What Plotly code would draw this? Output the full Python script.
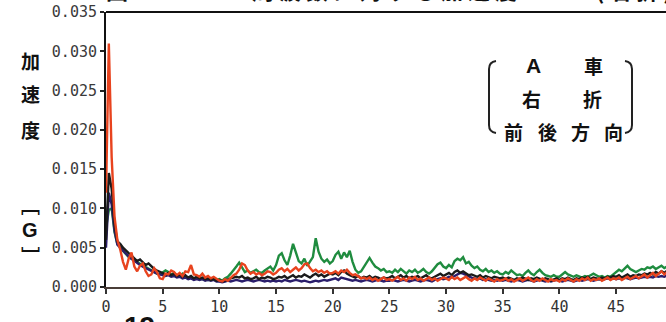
import numpy as np
import plotly.graph_objects as go

# Frequency grid [Hz]
freq_hz = np.round(np.arange(0, 49.51, 0.25), 2)

# Longitudinal acceleration spectra [G], one row per 5 Hz band
accel_green = [
    0.0075, 0.0098, 0.0100, 0.0070, 0.0055, 0.0050, 0.0046, 0.0042, 0.0038, 0.0036, 0.0034, 0.0031, 0.0029, 0.0027, 0.0025, 0.0023, 0.0021, 0.0019, 0.0017, 0.0016,
    0.0018, 0.0021, 0.0019, 0.0016, 0.0018, 0.0015, 0.0014, 0.0017, 0.0012, 0.0011, 0.0013, 0.0010, 0.0012, 0.0011, 0.0010, 0.0012, 0.0009, 0.0011, 0.0010, 0.0009,
    0.0010, 0.0008, 0.0011, 0.0013, 0.0017, 0.0021, 0.0026, 0.0031, 0.0024, 0.0019, 0.0021, 0.0018, 0.0020, 0.0022, 0.0019, 0.0018, 0.0021, 0.0024, 0.0026, 0.0021,
    0.0028, 0.0040, 0.0043, 0.0034, 0.0028, 0.0040, 0.0055, 0.0044, 0.0033, 0.0030, 0.0036, 0.0027, 0.0032, 0.0038, 0.0062, 0.0045, 0.0036, 0.0032, 0.0035, 0.0030,
    0.0033, 0.0041, 0.0045, 0.0036, 0.0044, 0.0038, 0.0046, 0.0032, 0.0022, 0.0018, 0.0020, 0.0026, 0.0032, 0.0037, 0.0031, 0.0026, 0.0024, 0.0021, 0.0023, 0.0019,
    0.0020, 0.0018, 0.0022, 0.0019, 0.0023, 0.0020, 0.0017, 0.0021, 0.0019, 0.0022, 0.0018, 0.0020, 0.0023, 0.0019, 0.0017, 0.0020, 0.0024, 0.0029, 0.0031, 0.0026,
    0.0024, 0.0028, 0.0025, 0.0033, 0.0036, 0.0034, 0.0038, 0.0030, 0.0032, 0.0027, 0.0024, 0.0026, 0.0022, 0.0020, 0.0023, 0.0019, 0.0021, 0.0018, 0.0020, 0.0017,
    0.0016, 0.0019, 0.0017, 0.0021, 0.0018, 0.0015, 0.0016, 0.0014, 0.0018, 0.0021, 0.0017, 0.0015, 0.0019, 0.0022, 0.0018, 0.0015, 0.0014, 0.0013, 0.0015, 0.0013,
    0.0013, 0.0016, 0.0019, 0.0016, 0.0014, 0.0013, 0.0015, 0.0013, 0.0012, 0.0014, 0.0013, 0.0015, 0.0017, 0.0015, 0.0013, 0.0014, 0.0012, 0.0014, 0.0013, 0.0016,
    0.0019, 0.0022, 0.0020, 0.0024, 0.0027, 0.0023, 0.0021, 0.0019, 0.0021, 0.0023, 0.0022, 0.0025, 0.0024, 0.0026, 0.0023, 0.0025, 0.0027, 0.0024, 0.0026,
]

accel_navy = [
    0.0050, 0.0120, 0.0105, 0.0072, 0.0054, 0.0050, 0.0046, 0.0042, 0.0039, 0.0036, 0.0033, 0.0030, 0.0028, 0.0026, 0.0024, 0.0022, 0.0020, 0.0018, 0.0017, 0.0016,
    0.0015, 0.0014, 0.0015, 0.0013, 0.0014, 0.0012, 0.0013, 0.0011, 0.0012, 0.0010, 0.0011, 0.0009, 0.0010, 0.0009, 0.0010, 0.0008, 0.0009, 0.0008, 0.0009, 0.0007,
    0.0007, 0.0006, 0.0007, 0.0008, 0.0007, 0.0008, 0.0009, 0.0008, 0.0007, 0.0008, 0.0009, 0.0008, 0.0007, 0.0008, 0.0009, 0.0008, 0.0007, 0.0008, 0.0007, 0.0008,
    0.0007, 0.0008, 0.0007, 0.0009, 0.0008, 0.0007, 0.0008, 0.0009, 0.0008, 0.0007, 0.0008, 0.0007, 0.0006, 0.0007, 0.0008, 0.0007, 0.0008, 0.0009, 0.0008, 0.0009,
    0.0010, 0.0011, 0.0009, 0.0012, 0.0011, 0.0010, 0.0009, 0.0008, 0.0009, 0.0008, 0.0007, 0.0008, 0.0009, 0.0008, 0.0007, 0.0008, 0.0009, 0.0008, 0.0007, 0.0008,
    0.0008, 0.0009, 0.0008, 0.0007, 0.0008, 0.0009, 0.0008, 0.0007, 0.0008, 0.0009, 0.0008, 0.0007, 0.0008, 0.0009, 0.0008, 0.0007, 0.0009, 0.0010, 0.0011, 0.0010,
    0.0011, 0.0013, 0.0012, 0.0014, 0.0016, 0.0018, 0.0017, 0.0015, 0.0013, 0.0012, 0.0011, 0.0010, 0.0011, 0.0009, 0.0010, 0.0009, 0.0008, 0.0009, 0.0008, 0.0009,
    0.0008, 0.0009, 0.0008, 0.0007, 0.0008, 0.0009, 0.0008, 0.0007, 0.0008, 0.0009, 0.0008, 0.0007, 0.0008, 0.0009, 0.0008, 0.0007, 0.0008, 0.0007, 0.0008, 0.0009,
    0.0008, 0.0007, 0.0008, 0.0009, 0.0008, 0.0007, 0.0008, 0.0009, 0.0008, 0.0009, 0.0010, 0.0009, 0.0008, 0.0009, 0.0010, 0.0009, 0.0010, 0.0011, 0.0010, 0.0011,
    0.0010, 0.0011, 0.0010, 0.0012, 0.0011, 0.0010, 0.0011, 0.0012, 0.0011, 0.0012, 0.0013, 0.0012, 0.0013, 0.0012, 0.0014, 0.0013, 0.0014, 0.0013, 0.0015,
]

accel_black = [
    0.0060, 0.0145, 0.0125, 0.0080, 0.0058, 0.0055, 0.0050, 0.0046, 0.0043, 0.0040, 0.0036, 0.0033, 0.0035, 0.0031, 0.0028, 0.0030, 0.0026, 0.0023, 0.0021, 0.0019,
    0.0017, 0.0016, 0.0018, 0.0015, 0.0017, 0.0014, 0.0016, 0.0013, 0.0015, 0.0012, 0.0014, 0.0011, 0.0013, 0.0011, 0.0012, 0.0010, 0.0011, 0.0009, 0.0010, 0.0008,
    0.0009, 0.0007, 0.0008, 0.0010, 0.0011, 0.0012, 0.0013, 0.0012, 0.0014, 0.0011, 0.0012, 0.0010, 0.0011, 0.0013, 0.0010, 0.0012, 0.0011, 0.0013, 0.0012, 0.0010,
    0.0011, 0.0013, 0.0012, 0.0014, 0.0011, 0.0013, 0.0015, 0.0012, 0.0014, 0.0013, 0.0016, 0.0014, 0.0012, 0.0015, 0.0017, 0.0014, 0.0016, 0.0013, 0.0015, 0.0017,
    0.0016, 0.0018, 0.0015, 0.0019, 0.0021, 0.0017, 0.0015, 0.0013, 0.0012, 0.0014, 0.0011, 0.0013, 0.0012, 0.0014, 0.0011, 0.0013, 0.0012, 0.0010, 0.0012, 0.0011,
    0.0012, 0.0014, 0.0011, 0.0013, 0.0015, 0.0012, 0.0014, 0.0011, 0.0013, 0.0012, 0.0014, 0.0011, 0.0013, 0.0015, 0.0012, 0.0011, 0.0013, 0.0015, 0.0017, 0.0014,
    0.0016, 0.0018, 0.0015, 0.0019, 0.0021, 0.0018, 0.0020, 0.0017, 0.0015, 0.0016, 0.0014, 0.0013, 0.0015, 0.0012, 0.0014, 0.0013, 0.0011, 0.0013, 0.0012, 0.0011,
    0.0012, 0.0010, 0.0012, 0.0011, 0.0009, 0.0011, 0.0010, 0.0012, 0.0010, 0.0009, 0.0011, 0.0010, 0.0012, 0.0010, 0.0009, 0.0011, 0.0010, 0.0008, 0.0010, 0.0011,
    0.0009, 0.0011, 0.0010, 0.0012, 0.0010, 0.0009, 0.0011, 0.0010, 0.0012, 0.0011, 0.0013, 0.0010, 0.0012, 0.0011, 0.0010, 0.0012, 0.0011, 0.0013, 0.0012, 0.0014,
    0.0013, 0.0015, 0.0012, 0.0014, 0.0016, 0.0013, 0.0015, 0.0014, 0.0016, 0.0015, 0.0017, 0.0016, 0.0018, 0.0016, 0.0019, 0.0017, 0.0020, 0.0018, 0.0021,
]

accel_red = [
    0.0120, 0.0310, 0.0165, 0.0090, 0.0060, 0.0048, 0.0032, 0.0022, 0.0036, 0.0044, 0.0026, 0.0020, 0.0027, 0.0030, 0.0020, 0.0014, 0.0016, 0.0024, 0.0019, 0.0011,
    0.0010, 0.0017, 0.0016, 0.0021, 0.0019, 0.0015, 0.0018, 0.0014, 0.0020, 0.0019, 0.0028, 0.0016, 0.0015, 0.0013, 0.0017, 0.0012, 0.0014, 0.0011, 0.0013, 0.0010,
    0.0008, 0.0007, 0.0010, 0.0008, 0.0012, 0.0015, 0.0017, 0.0022, 0.0030, 0.0028, 0.0021, 0.0017, 0.0019, 0.0016, 0.0018, 0.0015, 0.0017, 0.0020, 0.0019, 0.0016,
    0.0018, 0.0022, 0.0024, 0.0020, 0.0023, 0.0019, 0.0022, 0.0025, 0.0021, 0.0024, 0.0029, 0.0030, 0.0024, 0.0020, 0.0022, 0.0019, 0.0021, 0.0018, 0.0020, 0.0017,
    0.0018, 0.0020, 0.0017, 0.0021, 0.0019, 0.0022, 0.0018, 0.0015, 0.0016, 0.0013, 0.0011, 0.0012, 0.0010, 0.0012, 0.0009, 0.0011, 0.0008, 0.0010, 0.0012, 0.0009,
    0.0010, 0.0008, 0.0011, 0.0013, 0.0009, 0.0011, 0.0008, 0.0012, 0.0010, 0.0013, 0.0009, 0.0011, 0.0008, 0.0010, 0.0012, 0.0009, 0.0011, 0.0008, 0.0010, 0.0012,
    0.0011, 0.0009, 0.0013, 0.0010, 0.0012, 0.0009, 0.0011, 0.0013, 0.0010, 0.0008, 0.0011, 0.0009, 0.0012, 0.0010, 0.0008, 0.0011, 0.0009, 0.0007, 0.0010, 0.0008,
    0.0009, 0.0011, 0.0008, 0.0010, 0.0007, 0.0009, 0.0011, 0.0008, 0.0010, 0.0012, 0.0009, 0.0007, 0.0010, 0.0008, 0.0011, 0.0009, 0.0007, 0.0010, 0.0008, 0.0009,
    0.0007, 0.0010, 0.0008, 0.0011, 0.0009, 0.0007, 0.0010, 0.0008, 0.0011, 0.0009, 0.0012, 0.0008, 0.0010, 0.0009, 0.0011, 0.0008, 0.0010, 0.0012, 0.0009, 0.0011,
    0.0010, 0.0012, 0.0009, 0.0011, 0.0013, 0.0010, 0.0012, 0.0014, 0.0011, 0.0013, 0.0016, 0.0012, 0.0015, 0.0018, 0.0014, 0.0017, 0.0020, 0.0016, 0.0019,
]

y_ticks = [0.000, 0.005, 0.010, 0.015, 0.020, 0.025, 0.030, 0.035]
x_ticks = [0, 5, 10, 15, 20, 25, 30, 35, 40, 45]

series = [
    ("green", accel_green, "#1f8c3f"),
    ("navy", accel_navy, "#2b1d6b"),
    ("black", accel_black, "#1b1b1b"),
    ("red", accel_red, "#e8431e"),
]

W, H = 666, 322
L, R, T, B = 106, 0, 12, 35
PW, PH = W - L - R, H - T - B


def px(x, y):
    """Pixel position -> paper coordinates."""
    return (x - L) / PW, (H - B - y) / PH


fig = go.Figure()
for name, vals, col in series:
    fig.add_trace(go.Scatter(
        x=freq_hz, y=vals, mode="lines", name=name,
        line=dict(color=col, width=2.4), showlegend=False, hoverinfo="skip",
    ))

mono = "DejaVu Sans Mono"
cjk = "Noto Sans CJK JP"

annotations = []


def label(text, x, y, size, xanchor="center", yanchor="middle", color="#111", family=cjk):
    xp, yp = px(x, y)
    annotations.append(dict(
        text=text, x=xp, y=yp, xref="paper", yref="paper",
        xanchor=xanchor, yanchor=yanchor, showarrow=False,
        font=dict(family=family, size=size, color=color),
    ))


# Y-axis caption, written vertically
label("<b>加</b>", 30, 60, 19)
label("<b>速</b>", 30, 93, 19)
label("<b>度</b>", 30, 129, 19)
label("<b>﹇</b>", 30, 204, 19)
label("<b>G</b>", 30, 230, 20, family="Liberation Sans")
label("<b>﹈</b>", 30, 255, 19)

# Condition box text
label("<b>A</b>", 533, 65, 21, family="Liberation Sans")
label("<b>車</b>", 593, 65, 19)
label("<b>右</b>", 531, 98, 19)
label("<b>折</b>", 592, 98, 19)
for ch, xc in zip("前後方向", [513, 547, 580, 613]):
    label(f"<b>{ch}</b>", xc, 131, 19)

# Caption above the frame (mostly outside the page)
label("<b>図8.2</b>", 104, 7, 22, xanchor="left", yanchor="bottom")
label("<b>A</b>", 187, 7, 22, xanchor="left", yanchor="bottom")
label("<b>周 波 数 に 対 す る 加 速 度</b>", 250, 7, 22, xanchor="left", yanchor="bottom")
label("<b>( 右 折 )</b>", 594, 7, 22, xanchor="left", yanchor="bottom")

# Page number below
label("<b>19</b>", 122, 309, 28, xanchor="left", yanchor="top", family="Liberation Sans")

shapes = []


def bracket(xo, xi, y0, y1):
    """Tall parenthesis: xo = outer (vertical stroke) x, xi = tip x."""
    a = px(xi, y0)
    b = px(xo, y0 + 8)
    c = px(xo, y1 - 8)
    d = px(xi, y1)
    ctl1 = px(xo, y0 + 1)
    ctl2 = px(xo, y1 - 1)
    p = (f"M {a[0]},{a[1]} Q {ctl1[0]},{ctl1[1]} {b[0]},{b[1]} "
         f"L {c[0]},{c[1]} Q {ctl2[0]},{ctl2[1]} {d[0]},{d[1]}")
    shapes.append(dict(type="path", path=p, xref="paper", yref="paper",
                       line=dict(color="#222", width=2)))


bracket(489, 496, 61, 133)
bracket(632, 625, 61, 133)

# Top edge of the frame
shapes.append(dict(type="line", xref="paper", yref="paper", x0=0, x1=1, y0=1, y1=1,
                   line=dict(color="#111", width=2)))

fig.update_layout(
    width=W, height=H,
    margin=dict(l=L, r=R, t=T, b=B, pad=0),
    paper_bgcolor="white", plot_bgcolor="white",
    annotations=annotations, shapes=shapes,
    xaxis=dict(
        range=[0, 49.4], tickvals=x_ticks, ticktext=[str(v) for v in x_ticks],
        ticks="outside", ticklen=5, tickwidth=1.5, tickcolor="#333",
        showline=True, linecolor="#4a3d38", linewidth=2,
        showgrid=False, zeroline=False,
        tickfont=dict(family=mono, size=15, color="#333"),
    ),
    yaxis=dict(
        range=[0, 0.035], tickvals=y_ticks, ticktext=[f"{v:.3f}" for v in y_ticks],
        ticks="outside", ticklen=4, tickwidth=1.5, tickcolor="#222",
        showline=True, linecolor="#111", linewidth=2,
        showgrid=False, zeroline=False,
        tickfont=dict(family=mono, size=15, color="#3a3a3a"),
    ),
)

fig.write_html("out.html")
